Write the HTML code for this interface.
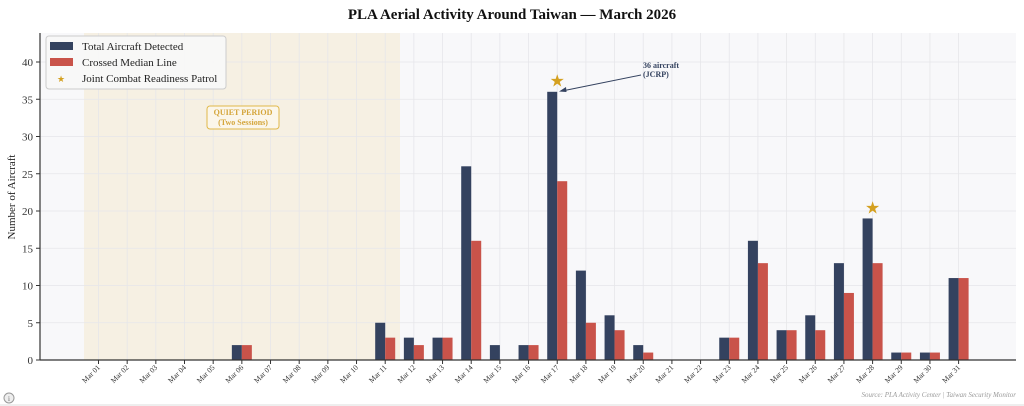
<!DOCTYPE html>
<html><head><style>body{margin:0;background:#fff}svg{display:block}text{font-family:"Liberation Serif",serif}</style></head><body>
<svg width="1024" height="406" xmlns="http://www.w3.org/2000/svg">
<rect width="1024" height="406" fill="#fff"/>
<text x="512" y="19" text-anchor="middle" font-size="15" font-weight="bold" fill="#111">PLA Aerial Activity Around Taiwan — March 2026</text>
<rect x="40" y="33" width="976" height="327" fill="#f8f8fa"/>
<rect x="84" y="33" width="316" height="327" fill="#f6f0e3"/>
<g id="grid" stroke="#e6e6ea" stroke-width="0.8"></g>
<g id="bars"></g>
<line x1="40" y1="33" x2="40" y2="360" stroke="#333" stroke-width="1.2"/>
<line x1="40" y1="360" x2="1016" y2="360" stroke="#333" stroke-width="1.2"/>
<g id="yt" font-size="11" fill="#333"></g>
<g id="xt" font-size="7.5" fill="#333"></g>
<text transform="translate(15,197) rotate(-90)" text-anchor="middle" font-size="11" fill="#222">Number of Aircraft</text>
<rect x="207" y="106" width="72" height="23" rx="3" fill="#fbf6ea" stroke="#e0b84a" stroke-width="1"/>
<text x="243" y="115" text-anchor="middle" font-size="8" font-weight="bold" fill="#d4a53a">QUIET PERIOD</text>
<text x="243" y="125" text-anchor="middle" font-size="8" font-weight="bold" fill="#d4a53a">(Two Sessions)</text>
<text x="643" y="68" font-size="8" font-weight="bold" fill="#34425f">36 aircraft</text>
<text x="643" y="77" font-size="8" font-weight="bold" fill="#34425f">(JCRP)</text>
<line x1="641" y1="75" x2="562" y2="91" stroke="#34425f" stroke-width="1"/>
<polygon points="559,91.5 566,87 566.5,92" fill="#34425f"/>
<rect x="46" y="36" width="180" height="53" rx="3" fill="#f8f8f8" stroke="#ccc" fill-opacity="0.95"/>
<rect x="50" y="42" width="23" height="8" fill="#34425f"/>
<rect x="50" y="58" width="23" height="8" fill="#c9534a"/>
<text x="61" y="82" text-anchor="middle" font-size="9" fill="#d4a020">★</text>
<text x="82" y="50" font-size="11" fill="#222">Total Aircraft Detected</text>
<text x="82" y="66" font-size="11" fill="#222">Crossed Median Line</text>
<text x="82" y="82" font-size="11" fill="#222">Joint Combat Readiness Patrol</text>
<text x="1016" y="397" text-anchor="end" font-size="7" font-style="italic" fill="#999">Source: PLA Activity Center | Taiwan Security Monitor</text>
<circle cx="9" cy="398" r="5" fill="#eee" stroke="#999"/>
<text x="9" y="401" text-anchor="middle" font-size="7" fill="#666">i</text>
<line x1="0" y1="405" x2="1024" y2="405" stroke="#ddd"/>
</svg>
<script>
const ns="http://www.w3.org/2000/svg";
function el(p,t,a,txt){const e=document.createElementNS(ns,t);for(const k in a)e.setAttribute(k,a[k]);if(txt!=null)e.textContent=txt;document.getElementById(p).appendChild(e);return e;}
const Y=v=>360-v*7.45, X=i=>98.5+i*28.67;
for(let v=0;v<=40;v+=5){el("grid","line",{x1:40,x2:1016,y1:Y(v),y2:Y(v)});el("yt","text",{x:33,y:Y(v)+4,"text-anchor":"end"},v);el("yt","line",{x1:36,x2:40,y1:Y(v),y2:Y(v),stroke:"#333"});}
const T=[0,0,0,0,0,2,0,0,0,0,5,3,3,26,2,2,36,12,6,2,0,0,3,16,4,6,13,19,1,1,11];
const C=[0,0,0,0,0,2,0,0,0,0,3,2,3,16,0,2,24,5,4,1,0,0,3,13,4,4,9,13,1,1,11];
for(let i=0;i<31;i++){const x=X(i);el("grid","line",{x1:x,x2:x,y1:33,y2:360});
if(T[i])el("bars","rect",{x:x-10,y:Y(T[i]),width:10,height:T[i]*7.45,fill:"#34425f"});
if(C[i])el("bars","rect",{x:x,y:Y(C[i]),width:10,height:C[i]*7.45,fill:"#c9534a"});
el("xt","line",{x1:x,x2:x,y1:360,y2:364,stroke:"#333"});
const d=String(i+1).padStart(2,"0");
el("xt","text",{transform:`translate(${x+2},${368}) rotate(-45)`,"text-anchor":"end"},"Mar "+d);}
[[16,37.5],[27,20.5]].forEach(([i,v])=>el("bars","text",{x:X(i),y:Y(v)+6,"text-anchor":"middle","font-size":"17",fill:"#d4a020"},"★"));
</script>
</body></html>
